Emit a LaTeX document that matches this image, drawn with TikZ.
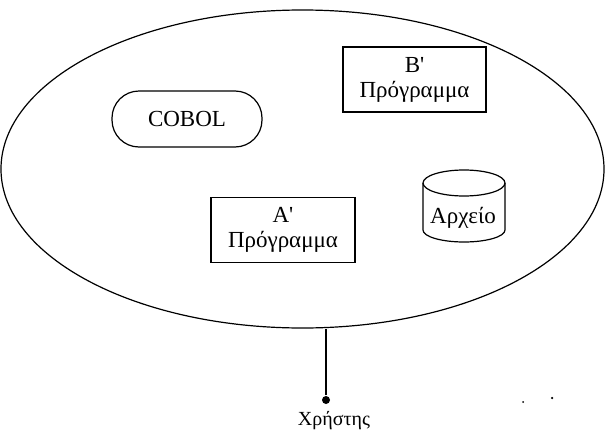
\documentclass[tikz,border=0pt]{standalone}
\usepackage{fontspec}
\setmainfont{Liberation Serif}
\usetikzlibrary{shapes.geometric}
\begin{document}
\begin{tikzpicture}[x=1pt,y=-1pt,
  lbl/.style={font=\fontsize{23}{25}\selectfont, align=center},
  progbox/.style={draw, line width=1.2pt, inner sep=0pt, lbl},
  every path/.style={line width=1.2pt}]
\useasboundingbox (0,0) rectangle (605,434);
% system ellipse
\node[draw, ellipse, line width=1.2pt, minimum width=603pt, minimum height=318pt, inner sep=0pt] (sys) at (302.5,169) {};
% B' program
\node[progbox, minimum width=143pt, minimum height=65pt] (progB) at (414.5,79.5) {B\textquotesingle\\Πρόγραμμα};
% COBOL
\node[draw, line width=1.2pt, rounded corners=27pt, minimum width=150pt, minimum height=56pt, lbl] (cobol) at (187,119) {COBOL};
% A' program
\node[progbox, minimum width=144pt, minimum height=65pt] (progA) at (283,230) {A\textquotesingle\\Πρόγραμμα};
% file cylinder
\node[lbl, inner sep=0pt, anchor=base] (file) at (463,223) {Αρχείο};
\draw (423,183) -- (423,230) arc[start angle=180, end angle=360, x radius=41pt, y radius=12pt] -- (505,183);
\draw (464,183) ellipse [x radius=41pt, y radius=13pt];
% user
\node[circle, fill, inner sep=0pt, minimum size=8pt] (user) at (326,400) {};
\draw (user) -- (user |- sys.south);
\node[font=\fontsize{20}{22}\selectfont, inner sep=0pt] (userlbl) at (334,421) {Χρήστης};
% scan specks
\node[circle, fill, inner sep=0pt, minimum size=2pt] (speckA) at (523,402) {};
\node[circle, fill, inner sep=0pt, minimum size=2.5pt] (speckB) at (552,398) {};
\end{tikzpicture}
\end{document}
